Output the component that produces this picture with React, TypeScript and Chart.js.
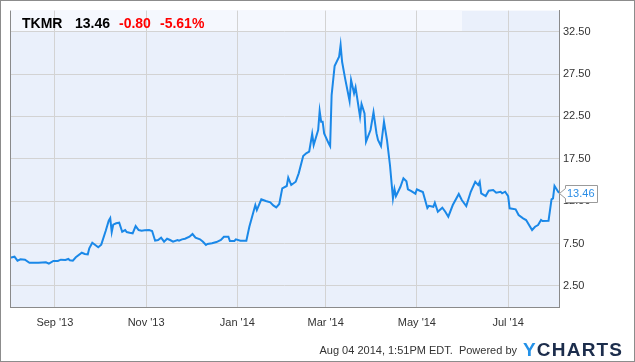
import React, { useEffect, useRef } from "react";
import { Chart, registerables } from "chart.js";

Chart.register(...registerables);

const TICKER = "TKMR";
const LAST_PRICE = "13.46";
const CHANGE = "-0.80";
const CHANGE_PCT = "-5.61%";
const FOOTER_TEXT = "Aug 04 2014, 1:51PM EDT.  Powered by";
const BRAND_Y = "Y";
const BRAND_REST = "CHARTS";

// x values: days since 2013-08-02 (axis runs to 2014-08-04 = day 367)
const X_MAX_DAY = 367;
const monthTickDays = [30, 91, 152, 211, 272, 333];
const monthTickLabels = ["Sep '13", "Nov '13", "Jan '14", "Mar '14", "May '14", "Jul '14"];
const priceTicks = [2.5, 7.5, 12.5, 17.5, 22.5, 27.5, 32.5];

const days = [
  0, 3, 5, 7, 10, 13, 19, 24, 26, 29,
  32, 34, 37, 39, 40, 42, 44, 48, 50, 52,
  53, 55, 57, 59, 61, 64, 66, 67, 68, 69,
  71, 73, 75, 77, 78, 80, 82, 84, 86, 88,
  90, 93, 95, 97, 99, 101, 103, 105, 107, 109,
  112, 113, 115, 117, 120, 122, 124, 127, 129, 131,
  132, 135, 138, 141, 143, 146, 147, 150, 151, 154,
  158, 160, 164, 165, 168, 171, 174, 176, 178, 180,
  182, 185, 186, 188, 191, 193, 196, 198, 200, 202,
  203, 206, 207, 208, 209, 210, 213, 214, 215, 217,
  220, 221, 222, 224, 227, 228, 230, 231, 234, 235,
  237, 238, 241, 243, 245, 246, 248, 250, 252, 254,
  256, 257, 258, 261, 263, 265, 266, 268, 271, 272,
  274, 276, 279, 280, 283, 284, 286, 289, 291, 293,
  296, 300, 302, 305, 308, 311, 313, 314, 315, 318,
  320, 323, 325, 328, 329, 331, 333, 334, 338, 340,
  343, 345, 349, 351, 353, 355, 356, 360, 362, 363,
  364, 367,
];

const prices = [
  5.82, 5.94, 5.47, 5.63, 5.59, 5.23, 5.23, 5.27, 5.11, 5.43,
  5.43, 5.59, 5.55, 5.67, 5.51, 5.47, 5.87, 6.41, 6.26, 6.22,
  6.93, 7.59, 7.32, 7.05, 7.36, 9.0, 10.2, 10.5, 8.85, 9.72,
  9.88, 9.95, 8.89, 9.09, 8.85, 8.77, 8.7, 9.56, 9.09, 9.01,
  9.05, 9.09, 8.97, 7.83, 7.91, 8.18, 7.71, 8.06, 7.91, 7.71,
  7.91, 7.83, 7.99, 8.06, 8.3, 8.62, 8.18, 7.99, 7.71, 7.32,
  7.44, 7.52, 7.67, 7.91, 8.3, 8.3, 7.79, 7.79, 7.99, 7.83,
  7.83, 9.48, 12.04, 11.45, 12.71, 12.51, 12.36, 12.0, 11.77, 12.16,
  14.01, 14.29, 15.27, 14.4, 14.79, 15.78, 17.83, 18.15, 18.34, 20.43,
  19.13, 20.9, 23.14, 21.88, 21.88, 20.5, 19.33, 19.0, 25.03, 28.45,
  29.55, 30.93, 28.96, 27.0, 24.32, 26.8, 25.23, 25.94, 22.47, 23.97,
  22.87, 19.52, 20.9, 22.99, 20.5, 19.72, 19.01, 21.88, 19.72, 16.77,
  12.83, 13.93, 13.1, 14.2, 15.2, 14.85, 13.9, 13.7, 13.38, 13.9,
  13.73, 13.58, 11.7, 11.95, 11.84, 12.31, 11.25, 11.72, 11.25, 10.66,
  12.04, 13.34, 12.63, 11.92, 13.61, 14.79, 14.4, 14.79, 13.42, 13.1,
  13.73, 13.81, 13.49, 13.61, 13.42, 13.61, 13.1, 11.65, 11.53, 10.86,
  10.47, 10.27, 9.09, 9.48, 9.68, 10.27, 10.15, 10.19, 12.71, 12.83,
  14.29, 13.46,
];

const FONT = 'Arial, "Liberation Sans", Helvetica, sans-serif';

const decorPlugin = {
  id: "decor",
  beforeDraw(chart: any) {
    const { ctx, chartArea: a, width, height } = chart;
    ctx.save();
    ctx.fillStyle = "#ffffff";
    ctx.fillRect(0, 0, width, height);
    ctx.fillStyle = "#eaf0fb";
    ctx.fillRect(a.left, a.top, a.right - a.left, a.bottom - a.top);
    const bandBottom = chart.scales.y.getPixelForValue(32.5);
    ctx.fillStyle = "#f5f8fe";
    ctx.fillRect(a.left, a.top, 462 - a.left, bandBottom - a.top);
    ctx.restore();
  },
  afterDraw(chart: any) {
    const { ctx, chartArea: a, width, height } = chart;
    ctx.save();
    // left plot border
    ctx.strokeStyle = "#8a8a8a";
    ctx.lineWidth = 1;
    ctx.beginPath();
    ctx.moveTo(a.left + 0.5, a.top);
    ctx.lineTo(a.left + 0.5, a.bottom);
    ctx.stroke();
    // outer border
    ctx.strokeStyle = "#8c8c8c";
    ctx.strokeRect(0.5, 0.5, width - 1, height - 1);

    // header
    ctx.textBaseline = "alphabetic";
    ctx.textAlign = "left";
    ctx.font = `bold 14px ${FONT}`;
    ctx.fillStyle = "#000000";
    ctx.fillText(TICKER, 22, 28);
    ctx.fillText(LAST_PRICE, 75, 28);
    ctx.fillStyle = "#ff0000";
    ctx.fillText(CHANGE, 119, 28);
    ctx.fillText(CHANGE_PCT, 160, 28);

    // last price tag
    const meta = chart.getDatasetMeta(0);
    const p = meta.data[meta.data.length - 1];
    const tipX = p.x;
    const tipY = p.y;
    const left = tipX + 6;
    const right = left + 32;
    const top = tipY - 8;
    const bottom = tipY + 9;
    ctx.beginPath();
    ctx.moveTo(tipX + 0.5, tipY + 0.5);
    ctx.lineTo(left + 0.5, tipY - 5 + 0.5);
    ctx.lineTo(left + 0.5, top + 0.5);
    ctx.lineTo(right + 0.5, top + 0.5);
    ctx.lineTo(right + 0.5, bottom + 0.5);
    ctx.lineTo(left + 0.5, bottom + 0.5);
    ctx.lineTo(left + 0.5, tipY + 5 + 0.5);
    ctx.closePath();
    ctx.fillStyle = "#ffffff";
    ctx.fill();
    ctx.strokeStyle = "#9a9a9a";
    ctx.stroke();
    ctx.font = `11px ${FONT}`;
    ctx.fillStyle = "#2a8de6";
    ctx.textBaseline = "middle";
    ctx.fillText(LAST_PRICE, left + 2, tipY + 1);

    // footer
    ctx.textBaseline = "alphabetic";
    ctx.textAlign = "right";
    ctx.font = `11px ${FONT}`;
    ctx.fillStyle = "#333333";
    ctx.fillText(FOOTER_TEXT, 517, 354);

    ctx.textAlign = "left";
    ctx.font = `bold 19px ${FONT}`;
    let x = 523;
    const spacing = 1.2;
    ctx.fillStyle = "#2391e8";
    ctx.fillText(BRAND_Y, x, 356);
    x += ctx.measureText(BRAND_Y).width + spacing;
    ctx.fillStyle = "#1c2d4c";
    for (const ch of BRAND_REST) {
      ctx.fillText(ch, x, 356);
      x += ctx.measureText(ch).width + spacing;
    }
    ctx.restore();
  },
};

export default function App() {
  const canvasRef = useRef<HTMLCanvasElement | null>(null);

  useEffect(() => {
    if (!canvasRef.current) return;
    const points = days.map((d, i) => ({ x: d, y: prices[i] }));
    const chart = new Chart(canvasRef.current, {
      type: "line",
      data: {
        datasets: [
          {
            data: points,
            borderColor: "#1a88e8",
            borderWidth: 2,
            pointRadius: 0,
            tension: 0,
            fill: false,
          },
        ],
      },
      options: {
        animation: false,
        responsive: false,
        devicePixelRatio: 1,
        layout: { padding: { left: 10, top: 10, right: 0, bottom: 0 } },
        plugins: {
          legend: { display: false },
          tooltip: { enabled: false },
        },
        scales: {
          x: {
            type: "linear",
            min: 0,
            max: X_MAX_DAY,
            afterBuildTicks: (scale: any) => {
              scale.ticks = monthTickDays.map((v) => ({ value: v }));
            },
            afterFit: (scale: any) => {
              scale.height = 55;
            },
            ticks: {
              autoSkip: false,
              maxRotation: 0,
              padding: 9,
              color: "#333333",
              font: { family: FONT, size: 11 },
              callback: (value: any) => {
                const idx = monthTickDays.indexOf(Number(value));
                return idx >= 0 ? monthTickLabels[idx] : "";
              },
            },
            grid: { color: "#d3d3d3", lineWidth: 1, drawTicks: false },
            border: { display: true, color: "#8a8a8a", width: 1 },
          },
          y: {
            position: "right",
            min: 0,
            max: 35,
            afterBuildTicks: (scale: any) => {
              scale.ticks = priceTicks.map((v) => ({ value: v }));
            },
            afterFit: (scale: any) => {
              scale.width = 76;
            },
            ticks: {
              padding: 4,
              color: "#333333",
              font: { family: FONT, size: 11 },
              callback: (value: any) => Number(value).toFixed(2),
            },
            grid: { color: "#d3d3d3", lineWidth: 1, drawTicks: false },
            border: { display: true, color: "#8a8a8a", width: 1 },
          },
        },
      },
      plugins: [decorPlugin],
    } as any);
    return () => chart.destroy();
  }, []);

  return (
    <div style={{ position: "absolute", left: 0, top: 0, width: 635, height: 362 }}>
      <canvas ref={canvasRef} width={635} height={362} style={{ width: 635, height: 362, display: "block" }} />
    </div>
  );
}
